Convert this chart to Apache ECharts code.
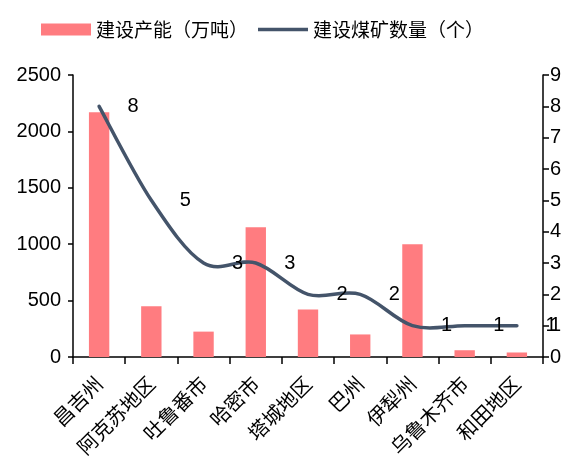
<!DOCTYPE html>
<html>
<head>
<meta charset="utf-8">
<script src="https://cdn.jsdelivr.net/npm/echarts@6/dist/echarts.min.js"></script>
<style>
  html, body { margin: 0; padding: 0; background: #fff; }
  #chart { width: 569px; height: 463px; }
</style>
</head>
<body>
<div id="chart"></div>
<script>
// Regions along the x axis
const regions = ['昌吉州', '阿克苏地区', '吐鲁番市', '哈密市', '塔城地区', '巴州', '伊犁州', '乌鲁木齐市', '和田地区'];
// Capacity under construction (10k tonnes)
const capacity = [2170, 450, 225, 1150, 420, 200, 1000, 60, 40];
// Number of coal mines under construction
const mineCount = [8, 5, 3, 3, 2, 2, 1, 1, 1];

const capacityName = '建设产能（万吨）';
const countName = '建设煤矿数量（个）';
const lineColor = '#44546A';

const numFont = '"Liberation Sans", Arial, sans-serif';
const cjkFont = '"Noto Sans CJK SC", sans-serif';

// Catmull-Rom spline through the mine-count points, mapped with the axes' own scales
function renderSpline(params, api) {
  if (params.dataIndex !== 0) return null;
  const pts = mineCount.map((v, i) => api.coord([i, v]));
  const n = pts.length;
  let d = 'M' + pts[0][0] + ' ' + pts[0][1];
  for (let i = 0; i < n - 1; i++) {
    const p0 = pts[Math.max(i - 1, 0)];
    const p1 = pts[i];
    const p2 = pts[i + 1];
    const p3 = pts[Math.min(i + 2, n - 1)];
    const c1x = p1[0] + (p2[0] - p0[0]) / 6;
    const c1y = p1[1] + (p2[1] - p0[1]) / 6;
    const c2x = p2[0] - (p3[0] - p1[0]) / 6;
    const c2y = p2[1] - (p3[1] - p1[1]) / 6;
    d += ' C' + c1x + ' ' + c1y + ' ' + c2x + ' ' + c2y + ' ' + p2[0] + ' ' + p2[1];
  }
  return {
    type: 'path',
    shape: { pathData: d },
    style: { fill: null, stroke: lineColor, lineWidth: 3.5, lineCap: 'round', lineJoin: 'round' }
  };
}

const chart = echarts.init(document.getElementById('chart'));
chart.setOption({
  animation: false,
  legend: {
    left: 36,
    top: 15,
    itemWidth: 50,
    itemHeight: 12,
    itemGap: 10,
    textStyle: { fontFamily: cjkFont, fontSize: 19, color: '#000' },
    data: [
      { name: capacityName, icon: 'rect' },
      { name: countName, icon: 'path://M0,0 L53,0 L53,3.6 L0,3.6 Z', itemStyle: { color: lineColor } }
    ]
  },
  grid: { left: 73, right: 26, top: 75, bottom: 106 },
  xAxis: {
    type: 'category',
    data: regions,
    boundaryGap: true,
    axisLine: { lineStyle: { color: '#000', width: 1.5 } },
    axisTick: { show: true, length: 7, alignWithLabel: false, lineStyle: { color: '#000', width: 1.5 } },
    axisLabel: {
      interval: 0,
      rotate: 45,
      margin: 23,
      fontFamily: cjkFont,
      fontSize: 20,
      color: '#000'
    }
  },
  yAxis: [
    {
      type: 'value',
      min: 0, max: 2500, interval: 500,
      splitLine: { show: false },
      axisLine: { show: true, lineStyle: { color: '#000', width: 1.5 } },
      axisTick: { show: true, length: 5, lineStyle: { color: '#000', width: 1.5 } },
      axisLabel: { margin: 12, fontFamily: numFont, fontSize: 20, color: '#000', formatter: v => String(v) }
    },
    {
      type: 'value',
      min: 0, max: 9, interval: 1,
      position: 'right',
      splitLine: { show: false },
      axisLine: { show: true, lineStyle: { color: '#000', width: 1.5 } },
      axisTick: { show: true, length: 6, lineStyle: { color: '#000', width: 1.5 } },
      axisLabel: { margin: 7, fontFamily: numFont, fontSize: 20, color: '#000', formatter: v => String(v) }
    }
  ],
  series: [
    {
      name: capacityName,
      type: 'bar',
      data: capacity,
      barWidth: '39%',
      itemStyle: { color: '#FF7C80' }
    },
    {
      name: countName,
      type: 'custom',
      yAxisIndex: 1,
      data: mineCount.map((v, i) => [i, v]),
      encode: { x: 0, y: 1 },
      itemStyle: { color: lineColor },
      clip: false,
      z: 3,
      renderItem: renderSpline
    },
    {
      // value labels for the mine counts
      name: 'countLabels',
      type: 'scatter',
      yAxisIndex: 1,
      data: mineCount,
      symbolSize: 1,
      itemStyle: { color: 'rgba(0,0,0,0)', opacity: 1 },
      z: 4,
      label: {
        show: true,
        position: 'right',
        distance: 28,
        fontFamily: numFont,
        fontSize: 20,
        color: '#000'
      }
    }
  ]
});
</script>
</body>
</html>
